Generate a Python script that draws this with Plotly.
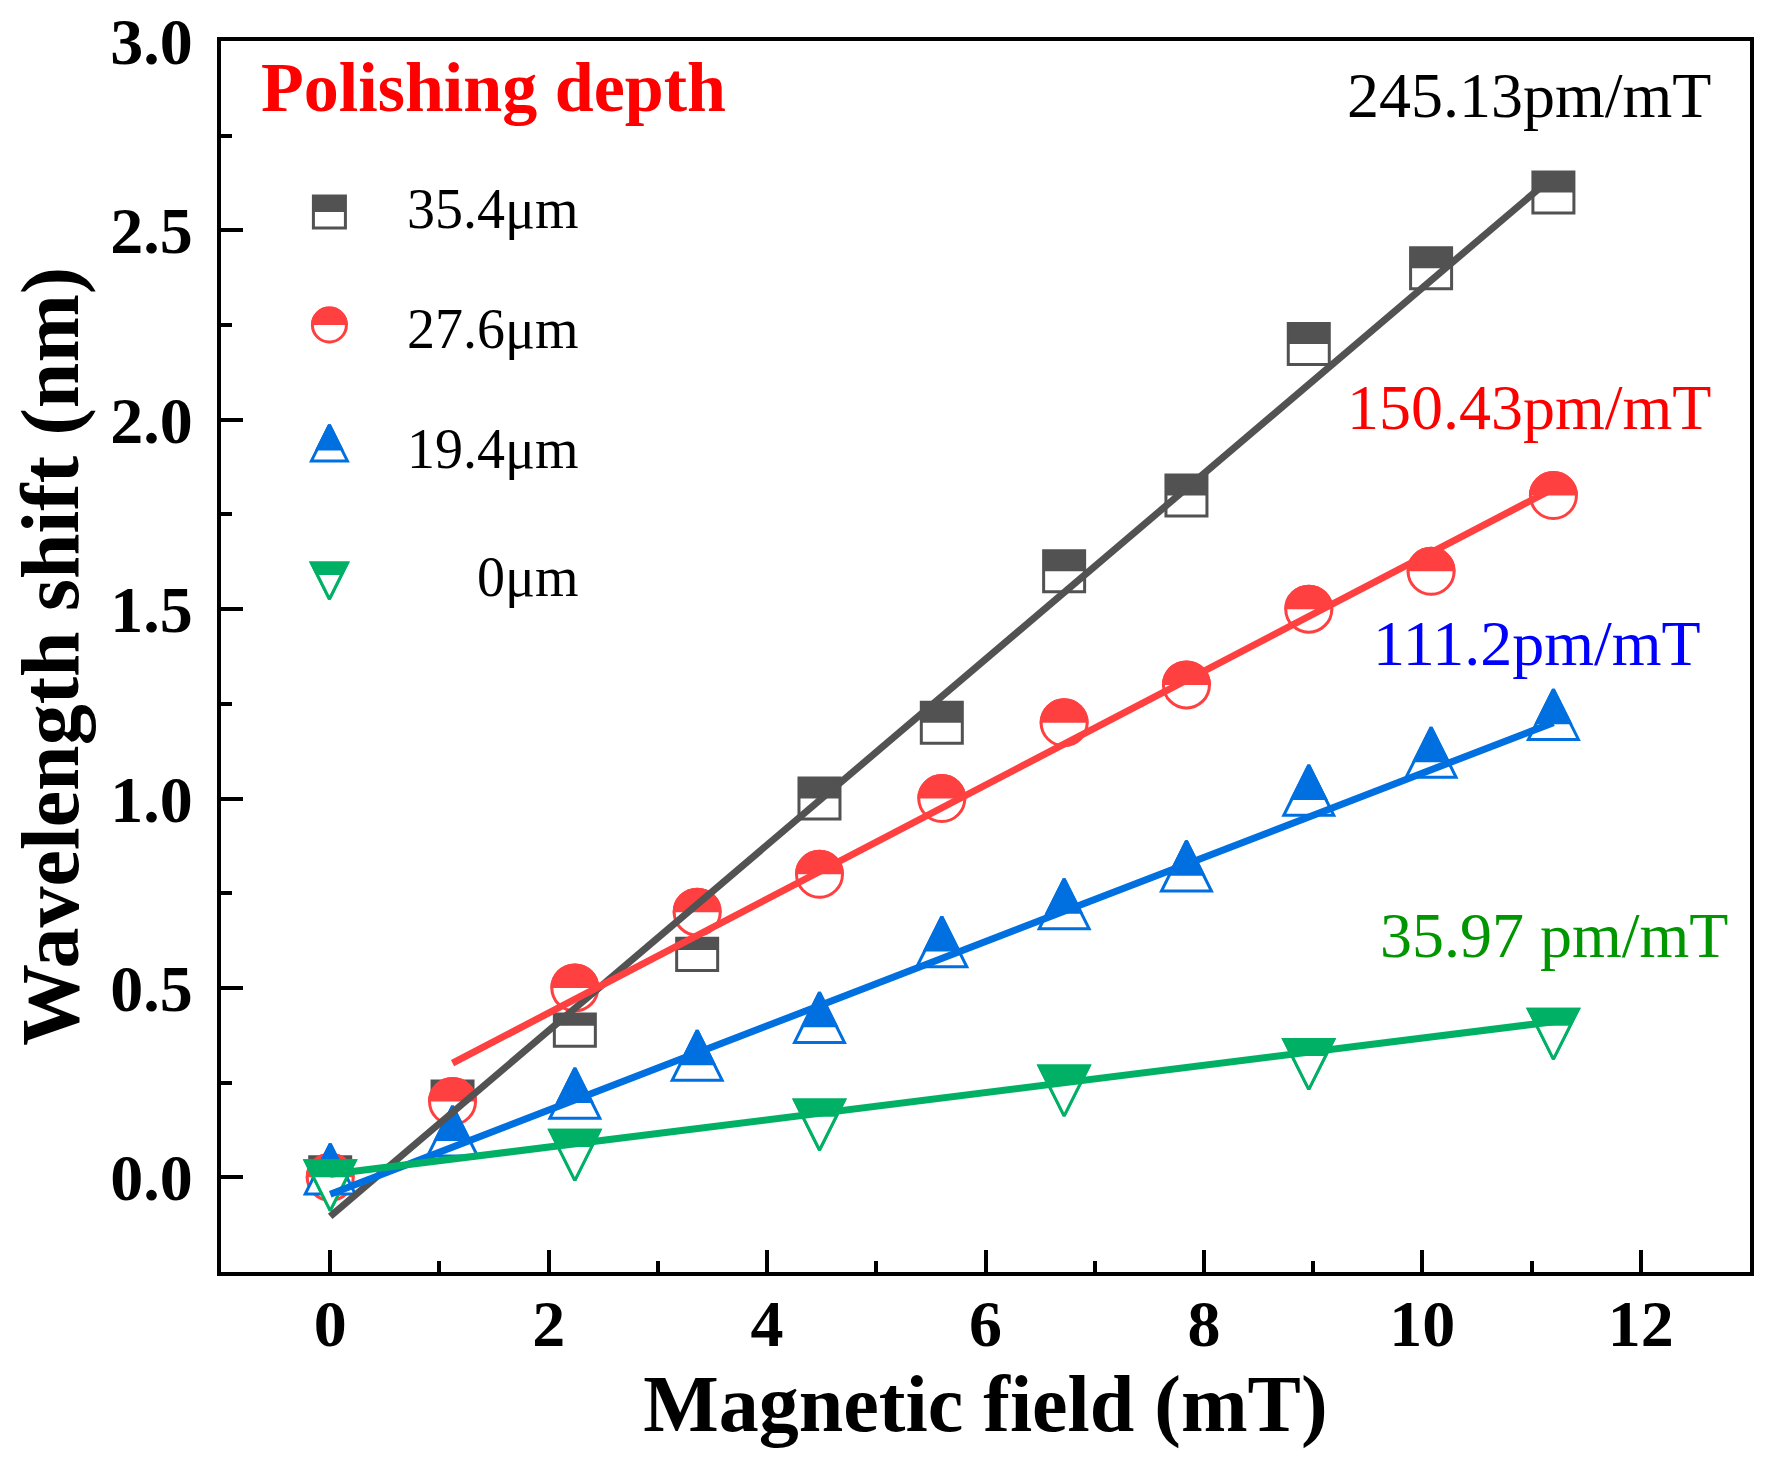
import plotly.graph_objects as go

# magnetic field steps (mT) and wavelength shift (nm) for each polishing depth
field = [0, 1.12, 2.24, 3.36, 4.48, 5.6, 6.72, 7.84, 8.96, 10.08, 11.2]
shift_354 = [0.0, 0.2, 0.4, 0.6, 1.0, 1.2, 1.6, 1.8, 2.2, 2.4, 2.6]
shift_276 = [0.0, 0.2, 0.5, 0.7, 0.8, 1.0, 1.2, 1.3, 1.5, 1.6, 1.8]
shift_194 = [0.0, 0.1, 0.2, 0.3, 0.4, 0.6, 0.7, 0.8, 1.0, 1.1, 1.2]
field_0 = [0, 2.24, 4.48, 6.72, 8.96, 11.2]
shift_0 = [0.0, 0.08, 0.16, 0.25, 0.32, 0.40]

depth_labels = ["35.4μm", "27.6μm", "19.4μm", "0μm"]
slope_labels = ["245.13pm/mT", "150.43pm/mT", "111.2pm/mT", "35.97 pm/mT"]

# linear fits: slope in pm/mT, intercept in nm, first field value of the fit
fit_slope = [245.13, 150.43, 111.2, 35.97]
fit_intercept = [-0.103, 0.133, -0.045, 0.008]
fit_from = [0, 1.12, 0, 0]

FONT = "Liberation Serif, Times New Roman, serif"
colors = ["#525252", "#FF4040", "#0070E0", "#00B065"]
text_colors = ["black", "#FF0000", "#0000FF", "#009600"]
shapes = ["square", "circle", "up", "down"]


def half_filled(shape, color, s, w=3):
    # top half filled, bottom half open, built from stacked plotly symbols
    if shape == "square":
        return [
            dict(symbol="square", size=s, color="white", line=dict(color=color, width=w)),
            dict(symbol="line-ew-open", size=s / 1.4, color=color, line=dict(width=s / 2),
                 angle=180, standoff=s / 4),
        ]
    if shape == "circle":
        return [
            dict(symbol="circle", size=s, color=color, line=dict(color=color, width=w)),
            dict(symbol="line-ew-open", size=(s + w) / 1.4, color="white",
                 line=dict(width=(s + w) / 2), standoff=(s + w) / 4),
            dict(symbol="circle-open", size=s, color=color, line=dict(width=w)),
        ]
    r = s / 2
    if shape == "up":
        return [
            dict(symbol="arrow-down", size=s, angle=180, standoff=4 * r / 3,
                 color="white", line=dict(color=color, width=w)),
            dict(symbol="arrow-down", size=4 * r / 3, angle=180, standoff=4 * r / 3,
                 color=color, line=dict(color=color, width=w)),
        ]
    return [
        dict(symbol="arrow-down", size=s, standoff=4 * r / 3,
             color=color, line=dict(color=color, width=w)),
        dict(symbol="arrow-down", size=4 * r / 3, standoff=4 * r / 3,
             color="white", line=dict(width=0)),
        dict(symbol="arrow-down-open", size=s, standoff=4 * r / 3,
             color=color, line=dict(width=w)),
    ]


def add_points(fig, x, y, shape, color, s, xaxis="x", yaxis="y"):
    for m in half_filled(shape, color, s):
        fig.add_trace(go.Scatter(x=x, y=y, mode="markers", marker=m,
                                 xaxis=xaxis, yaxis=yaxis,
                                 showlegend=False, hoverinfo="skip"))


fig = go.Figure()

series_x = [field, field, field, field_0]
series_y = [shift_354, shift_276, shift_194, shift_0]
data_size = {"square": 41, "circle": 46, "up": 50, "down": 50}
key_size = {"square": 32, "circle": 34, "up": 36, "down": 36}

for i in range(4):
    add_points(fig, series_x[i], series_y[i], shapes[i], colors[i], data_size[shapes[i]])

# fitted lines on top of the markers
x_end = max(field)
for i in range(4):
    fx = [fit_from[i], x_end]
    fy = [fit_slope[i] / 1000 * v + fit_intercept[i] for v in fx]
    fig.add_trace(go.Scatter(x=fx, y=fy, mode="lines",
                             line=dict(color=colors[i], width=7),
                             showlegend=False, hoverinfo="skip"))

# hand-made legend keys (half-filled symbols) on a hidden 0-1 overlay axis
key_x = 0.0709
key_y = [0.861, 0.7693, 0.6686, 0.5662]
label_y = [0.8632, 0.7657, 0.6686, 0.5643]
for i in range(4):
    add_points(fig, [key_x], [key_y[i]], shapes[i], colors[i], key_size[shapes[i]],
               xaxis="x2", yaxis="y2")
    fig.add_annotation(text=depth_labels[i], x=0.2357, y=label_y[i],
                       xref="paper", yref="paper", xanchor="right", yanchor="middle",
                       showarrow=False, font=dict(family=FONT, size=56, color="black"))

fig.add_annotation(text="Polishing depth", x=0.0251, y=0.9622, xref="paper", yref="paper",
                   xanchor="left", yanchor="middle", showarrow=False,
                   font=dict(family=FONT, size=70, color="#FF0000", weight="bold"))

slope_x = [0.9758, 0.9758, 0.9693, 0.9869]
slope_y = [0.9557, 0.7026, 0.5109, 0.2733]
for i in range(4):
    fig.add_annotation(text=slope_labels[i], x=slope_x[i], y=slope_y[i],
                       xref="paper", yref="paper", xanchor="right", yanchor="middle",
                       showarrow=False, font=dict(family=FONT, size=64, color=text_colors[i]))

axis_style = dict(
    showline=True, linecolor="black", linewidth=4, mirror=True,
    ticks="inside", ticklen=22, tickwidth=4, tickcolor="black",
    showgrid=False, zeroline=False, automargin=False, ticklabeloverflow="allow",
    tickfont=dict(family=FONT, size=66, color="black", weight="bold"),
)

fig.update_layout(
    width=1770,
    height=1468,
    margin=dict(l=220.5, r=20, t=41, b=196),
    plot_bgcolor="white",
    paper_bgcolor="white",
    xaxis=dict(
        range=[-1, 13], tick0=0, dtick=2,
        minor=dict(ticks="inside", ticklen=11, tickwidth=4, dtick=1, tickcolor="black"),
        ticklabelstandoff=-9,
        title=dict(text="Magnetic field (mT)", standoff=0,
                   font=dict(family=FONT, size=80, color="black", weight="bold")),
        **axis_style,
    ),
    yaxis=dict(
        range=[-0.25, 3.0], tick0=0, dtick=0.5, tickformat=".1f",
        minor=dict(ticks="inside", ticklen=11, tickwidth=4, dtick=0.25, tickcolor="black"),
        ticklabelstandoff=11,
        title=dict(text="Wavelength shift (nm)", standoff=6,
                   font=dict(family=FONT, size=82, color="black", weight="bold")),
        **axis_style,
    ),
    xaxis2=dict(overlaying="x", range=[0, 1], visible=False),
    yaxis2=dict(overlaying="y", range=[0, 1], visible=False),
)

# drop the default page margin so the figure sits at the window corner
fig.write_html("out.html", config={"displayModeBar": False},
               post_script="document.body.style.margin = '0';")
